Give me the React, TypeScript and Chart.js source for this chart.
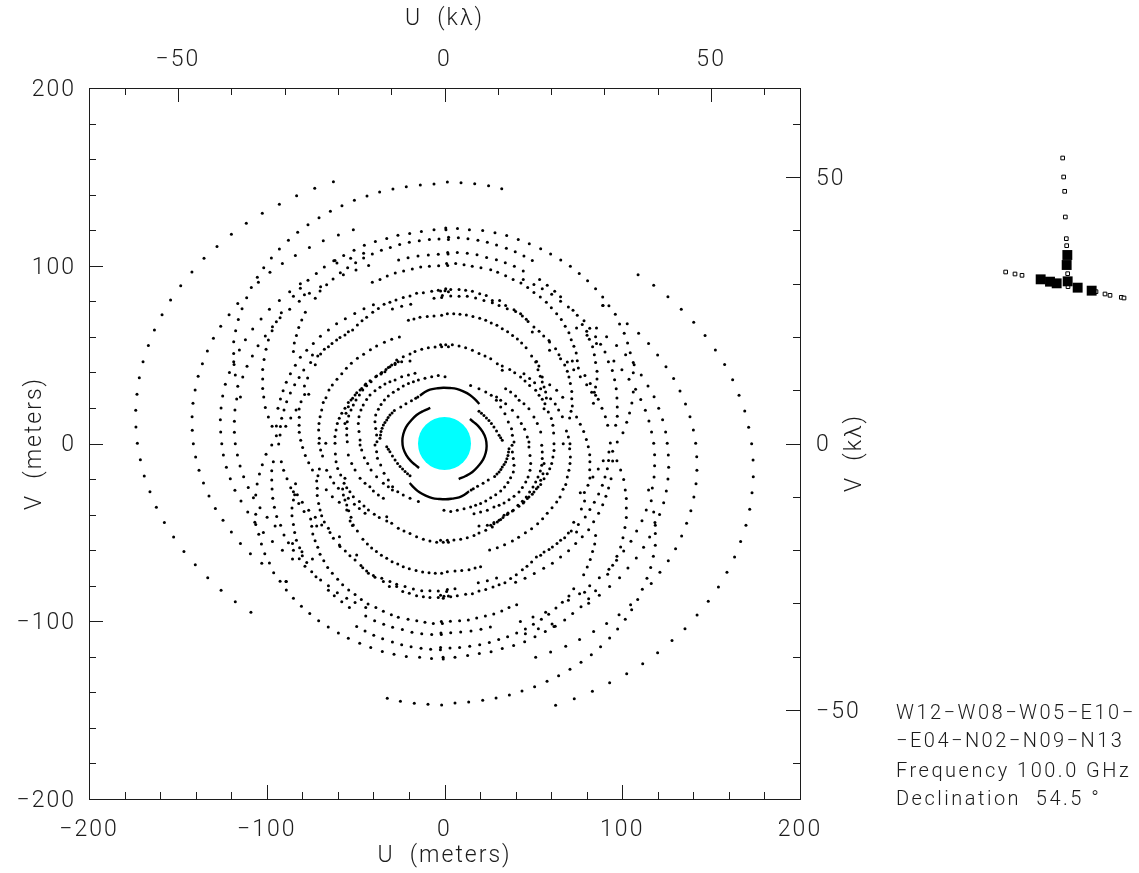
import React, { useEffect, useRef } from "react";
import { Chart, registerables } from "chart.js";

Chart.register(...registerables);

// U,V samples in metres, west half of the plane
const outerWest = [[-62.5,147.3],[-73,143.6],[-83.2,139.4],[-92.9,134.6],[-102.5,129.5],[-111.5,123.9],[-119.9,117.7],[-128,110.9],[-135.3,104.2],[-142.1,96.5],[-148.4,88.8],[-154.1,80.7],[-158.9,72.5],[-163.2,63.9],[-166.6,55.2],[-169.6,46],[-171.7,37],[-173,27.7],[-173.7,18.7],[-173.6,9.3],[-172.8,0.1],[-171.1,-9.1],[-168.9,-18.3],[-165.7,-27.1],[-162.1,-35.9],[-157.6,-44.4],[-152.4,-52.6],[-146.6,-60.7],[-140.2,-68.2],[-133.2,-75.5],[-125.7,-82.6],[-117.7,-89],[-108.9,-95]];
const ring147West = [[-5.9,146],[-13.6,145.4],[-21.5,144.5],[-29,143.2],[-36.5,141.5],[-43.6,139.2],[-50.7,136.8],[-57.7,133.8],[-64.2,130.6],[-70.6,127],[-76.8,123.1],[-82.6,118.8],[-87.8,114.3],[-92.9,109.4],[-97.4,104.4],[-101.7,98.9],[-105.3,93.5],[-108.7,87.8],[-111.3,82],[-113.9,75.8],[-116,69.8],[-117.5,63.5],[-118.6,57.3],[-118.6,50.7],[-118.4,44.5],[-117.7,38.5],[-116.3,32.2],[-114.8,26.2],[-32.2,-143.3],[-24.8,-145],[-17,-146.2],[-9.3,-146.7],[-1.6,-147.1]];
const ring120West = [[-51.3,120.3],[-59.7,117.3],[-68.2,114.1],[-76,110.2],[-83.9,105.8],[-91.2,101.3],[-98.2,96.3],[-104.7,90.7],[-116.3,78.8],[-121.2,72.5],[-125.9,65.9],[-130,59.2],[-133.4,52],[-136.2,44.9],[-138.6,37.8],[-140.3,30.1],[-141.5,22.6],[-142,15.1],[-141.9,7.4],[-141.3,-0.1],[-140,-7.6],[-138.1,-15.1],[-135.6,-22.2],[-132.5,-29.5],[-128.9,-36.5],[-124.6,-43.2],[-119.9,-49.8],[-114.8,-56.2],[-109.2,-62],[-102.8,-67.4],[-96.1,-72.7],[-89,-77.7],[-85,-87],[-80.5,-91.6],[-75.8,-95.7],[-70.8,-99.7],[-65.4,-103.2],[-59.7,-106.6],[-54.1,-109.6],[-47.7,-112.4],[-41.5,-114.7],[-35,-117],[-28.4,-118.6],[-21.5,-119.9],[-14,-120.3],[-7.3,-121],[-0.7,-121.2]];
const bandNorthWest = [[0.8,120.3],[-5.9,120.3],[-13,119.3],[-19.6,118.2],[-26.2,117.1],[-32.5,115.4],[-38.9,113.7],[-45.1,111.5],[-50.9,108.7],[-56.7,105.8],[-62.3,102.8],[-67.6,99.3],[-72.1,95.7],[-76.8,91.8],[-81.1,89.9],[-87.1,85.4],[-92.9,80.5],[-98.5,75.5],[-103.2,70],[-107.9,64.4],[-112,58.4],[-115.4,52.6],[-118.6,46],[2.2,114.7],[-3.1,115],[-8.5,114.7],[-14.2,114.1],[-19.8,113.2],[-25.2,112],[-30.5,110.3],[-35.5,108.7],[-40.6,106.6],[-45.5,107],[-45.5,104.3],[-50,101.7],[-54.5,98.9],[-58.6,96.1],[-62.7,92.5],[-66.3,89.3],[-69.7,88.2],[-70,85.8],[-72.7,81.7],[-76,84.5],[-78.8,83.7],[-81.7,80],[-85,82.8],[-81.1,87.3],[-87.1,75.5],[-91.8,73.6],[-92.5,70.8],[-94.6,68.5],[-96.8,65.7],[-97,63.5],[-100.8,60.5],[-99.1,58.2],[-104.9,55],[-108.1,49.2],[-111.1,43.4],[-113.5,37.4],[-116.9,25],[-117.9,18.8],[-118.2,12.5],[-118.2,6.3],[-117.7,-0.1],[-121,40],[-123.3,33.3],[-124.8,26.7],[-125.7,20],[-126.1,13.4],[-125.9,6.5],[-125.3,-0.1],[2,106.6],[-3.5,106.4],[-9.1,106],[-14.9,105.5],[-20.5,104.5],[-25.8,103.2],[-42.7,100.2],[-49.8,97.6],[-52.8,104.2],[-60.5,101.5],[-61.6,103],[-56.9,95],[1.8,100.2],[-3.3,100],[-8.5,99.7],[-13.4,99.3],[-18.1,98.2],[-23,97],[-27.7,95.9],[-32.2,94.2],[-36.3,92.3],[-40.6,90.7]];
const midWest = [[-100.4,53],[-101.5,47.3],[-102.3,41.7],[-102.3,36.3],[-102.3,31],[-101.7,26.2],[-100.8,20.3],[-99.1,14.9],[-97,9.7],[-94.6,9.8],[-92.3,9.5],[-89.3,9.7],[-94.6,4.4],[-92.5,4.8],[-97.2,-0.8],[-93.3,-0.3],[-93.7,19.8],[-90.3,18.8],[-83.5,18.8],[-81.8,19.4],[-86.5,14.3],[-91.6,14.2],[-81.7,14.7],[-81.8,10.2],[-81.7,6.3],[-80.9,1.8],[-92.3,25],[-88.8,23.5],[-80.7,23.5],[-90.8,29.7],[-86.7,28.4],[-89,34.4],[-84.3,33.1],[-86.7,39.3],[-81.8,37.2],[-83.9,44],[-81.1,48.5],[-85,51.7],[-84.5,56.5],[-83.3,60.8],[-82,65.2],[-80.3,69.5],[-78.3,73.8],[-78.7,27.5],[-76.4,27.7],[-78.8,32.3],[-77,36.8],[-79.2,41.3],[-75.3,45.5],[-72.7,44.3],[-74.3,49.8],[-77.5,52.4],[-73.8,56.3],[-69.8,60.3],[-65.3,63.8],[-60.7,67.4],[-55.8,70.2],[-50.5,73.2],[-45.3,75.8],[-40,78.1],[2.2,85.4],[0.3,86],[-3.5,86.2],[-7.2,85.6],[-11.9,84.8],[-15.7,84.5],[-19.4,83],[-23.2,82.2],[-27.3,80.7],[-30.7,79.4],[-34,78.3],[-37.2,76],[-40.4,73.8],[-43.8,71],[-46.4,69.1],[-49,66.7],[-51.7,63.8],[-54.1,62.9],[-56,61],[-58.8,59.7],[-60.7,58.2],[-63.3,56.3],[-65.3,54.5],[-67.6,53],[-69.7,50.3],[-71.3,49.2],[-5.9,81.7],[-1.6,82.2],[-19,78.3],[-24.1,77.2],[-29.3,75.7],[-1.6,72.1],[-5.9,71.7],[-9.7,71.5],[-13.8,71],[-17.2,70],[-20.3,69.3]];
const innerNorthWest = [[-25.4,59.9],[-29.7,58.6],[-33.8,56.9],[-38.2,54.8],[-41.7,52.8],[-45.5,50.2],[-49,47.9],[-52.4,45.1],[-55.2,42.3],[-57.8,39.3],[-60.5,36.1],[-63.1,32.9],[-65,30.1],[-66.7,25.8],[-68.2,23],[-69.1,18.8],[-70,15.1],[-70.6,11.3],[-70.8,7.6],[-70.4,2.9],[-70.6,0.1],[-66.8,0.1],[2.2,54.5],[-1.6,54.5],[-5.3,54.3],[-9.1,53.9],[-12.8,53],[-16.6,51.7],[-19.4,50.3],[-23.2,48.8],[-26.9,47],[-29.7,44.2],[-32.9,41.7],[-35.7,39.5],[-38.7,37.6],[-41.9,35.3],[-44.3,33.5],[-46.6,31],[-49.4,28.6],[-51.7,25.4],[-54.1,23],[-56,19.8],[-57.8,17],[-59.2,14.2],[-60.3,11.3],[-61,7.6],[-61.6,3.9],[-61.6,0.1],[-19.4,46.4],[-24.1,46],[-27.8,44.5],[-31.6,42.7],[-35.3,39.9],[-43.8,32.5],[-46,30.1],[-47.9,27.3],[-49.8,24.5],[-51.3,21.7],[-52.6,18.8],[-53.9,15.5],[-54.7,12.3],[-55,8.5],[-55,4.8],[-54.7,1]];
const ringsCloseWest = [[0.3,37.6],[-3.5,38.2],[-7.2,37.6],[-11,36.7],[-14.7,35.7],[-17.5,34.8],[-20.3,33.8],[-23.2,32.3],[-26,30.5],[-28.8,28.8],[-31.6,26.7],[-33.8,24.5],[-35.7,22],[-37.2,19.2],[-38.7,16],[-39.1,12.3],[-38.7,8.5],[-38.2,4.8],[-38,1],[-39.1,-0.8],[-38.2,-4.6],[-37.7,-8.3],[-35.9,-12.1],[-34,-16.8],[-31.6,-20.5],[-29.2,-24.3],[-26.3,-27.1],[-23.2,-29],[-19.4,-30.8],[-14.7,-32.7],[-16.6,39.5],[-20.3,38.5],[-24.1,37.6],[-27.8,35.7],[-30.7,34.8],[-33.5,33.5],[-36.3,31.6],[-39.1,29.7],[-41.9,27.3],[-43.8,24.8],[-45.7,21.7],[-47,18.8],[-48.1,15.1],[-48.5,11.3],[-48.1,6.7],[-47.5,2],[-47.5,-0.8],[-46.6,-3.7],[-45.1,-8],[-43.2,-11.2],[-41.3,-14.9],[-38.2,-18.7],[-34.4,-22.4],[-31.6,-24.3],[-29.3,-26.2],[-54.1,-6.5],[-52.2,-11.2],[-50.3,-14.9],[-47.5,-19.6],[-44.7,-22.4],[-42,-24.3],[-40,-26.7],[-37.2,-29],[-34.4,-30.8],[-26,46],[-27.8,45.1],[-30.7,43.2],[-33.5,40.4],[-35.7,39.1],[-38.2,38],[-41.3,34.8],[-44.7,32.9],[-47.5,30.1],[-50.3,27.3],[-52.6,24.5],[-54.1,20.7],[-55.4,17],[-56,11.3],[-56,-19.6],[-55,-24.9],[-54.1,-30.8],[-53.2,-27.1],[-51.3,-30],[-50.7,-34.2],[-47.9,-32.7],[-47.9,-36.5],[-45.3,-35.2],[-44.7,-39.3],[-42.8,-37.4],[-39.5,-39.8],[-36.7,-41.7],[-32.5,-43.6],[-55,-37.4],[-53.1,-43.6],[-51.8,-46.2],[-15,26.1],[-16.2,25.4],[-18.6,24],[-21.7,22.4],[-24.6,20.6],[-28.2,18.5],[-29.5,17.2],[-30.7,16],[-31.7,14.6],[-32.5,13.2],[-33.5,11.8],[-34.4,10.4],[-35.1,8.6],[-35.7,6.7],[-36,4.8],[-36.3,2.9],[-32.5,-1.8],[-31.6,-3.2],[-30.7,-4.6],[-29.3,-7],[-27.8,-9.3],[-26.4,-11.2],[-25,-13],[-23.6,-14.4],[-22.2,-15.8],[-20.8,-17],[-19.4,-18.1]];
const southWestA = [[-124.4,-6.5],[-122.7,-13.4],[-120.5,-19.8],[-117.9,-26.3],[-114.5,-32.3],[-110.7,-38.5],[-106.2,-45.5],[-104.5,-51.1],[-103,-56.5],[-101.1,-62],[-98.5,-67.2],[-92.5,-77.5],[-89,-82.4],[-116.5,-6.5],[-115,-12.7],[-113,-18.7],[-110.4,-24.7],[-105.4,-22.8],[-107.5,-30.5],[-106.2,-29],[-106.2,-39.8],[-106.7,-44.3],[-101.9,-50],[-100.4,-6.1],[-102.5,-11.9],[-104.1,-17.2],[-103.8,-36.1],[-99.8,-41.5],[-95.3,-46.4],[-90.3,-51.5],[-87.8,-55.8],[-85.5,-56.3],[-96.8,-55.2],[-91.2,-60.1],[-89.2,-77.7],[-96.3,-10.2],[-97.2,-15.3],[-97.2,-20.5],[-97,-25.6],[-96.6,-30.8],[-95.7,-35.9],[-94.4,-41],[-92.2,-46],[-91.8,-10.2],[-90.5,-15.1],[-88.6,-19.8],[-86.5,-24.9],[-83.8,-22.6],[-85,-27.1],[-84.3,-28.9],[-82.8,-28.9],[-85,-31.8],[-82,-33.8],[-80,-33.1],[-85.8,-36.3],[-85.8,-40.6],[-85,-45.5],[-84.3,-50],[-83.3,-54.5],[-81.5,-58.6],[-80.2,-60.9],[-80,-63.1],[-81.7,-64.8],[-85.5,-65],[-85,-60.1],[-79,-38.3],[-76.4,-37.6],[-75.3,-42.5],[-72.7,-41.5],[-69.1,-40.6],[-74.7,-46.6],[-71.9,-46.4],[-69.1,-45.9],[-67.6,-44.2]];
const southWestB = [[-74.1,-50.9],[-72.8,-54.7],[-71.3,-58.4],[-70,-62.3],[-67.9,-65.9],[-65.7,-69.7],[-63.1,-73],[-60.1,-76.4],[-57.3,-79.4],[-53.9,-82.4],[-50.3,-85],[-46.8,-87.7],[-43,-90.3],[-38.6,-92.2],[-34.4,-94.4],[-29.9,-96.3],[-26,-97.8],[-20.5,-98.9],[-15.6,-99.7],[-11,-100.6],[-6.3,-101.2],[-1.2,-101.3],[-79.8,-2.3],[-78.3,-6.7],[-76.4,-10.8],[-74.3,-14.9],[-70.4,-14.3],[-71.2,-18.1],[-71.9,-21.1],[-71.6,-25.2],[-71.6,-29.3],[-70.8,-33.7],[-70,-37.4],[-69.7,-3.7],[-68.6,-7],[-66.3,-15.1],[-64.2,-18.8],[-62.3,-22.2],[-66.5,-26],[-63.1,-29.9],[-59.2,-33.1],[-59.7,-25.2],[-56.5,-22.4],[-57.3,-25.6],[-56.9,-29],[-56,-31.8],[-55,-34.6],[-53.9,-37.8],[-52.6,-41.5],[-51.3,-45.8],[-49,-49.2],[-45.9,-53.9],[-43.4,-56.5],[-41,-58.8],[-38.3,-60.8],[-35.5,-62.9],[-32.5,-64.6],[-29.5,-66.5],[-26.3,-67.8],[-23.2,-69.3],[-19.8,-70.4],[-16,-71.5],[-12.3,-72.3],[-8.7,-72.7],[-5.2,-73],[-1.6,-73],[-61.4,-5.9],[-61,-10.2],[-60.1,-14],[-58.4,-17.7]];
const southWestC = [[-32.5,-41.2],[-29.7,-44.9],[-26,-47.7],[-22.8,-49.2],[-19.4,-50.7],[-15.7,-52.4],[-11.9,-53.9],[-8.2,-54.8],[-4.4,-55.6],[-0.7,-55.6],[2.2,-55.6],[-58.8,-58],[-55.8,-60.5],[-53.2,-63.1],[-50.3,-65.5],[-47,-68.7],[-43.8,-71.7],[-40,-74.3],[-35.3,-75.8],[-30.7,-77.7],[-26.9,-79.2],[-22.2,-80.5],[-17.5,-81.8],[-12.8,-82.8],[-8.2,-82.8],[-3.5,-83],[1.2,-83.3],[-49.4,-62.7],[-46,-69.9],[-42.8,-73],[-39.1,-75.3],[-34.4,-77.7],[-31,-80.5],[-26.9,-80.5],[-23.5,-83.3],[-19.8,-84.3],[-15.7,-85.6],[-11.9,-86.2],[-8.2,-86.7],[-3.5,-86.7],[-0.7,-87.1],[2.2,-85.8],[-78.5,-69.1],[-74.7,-72.1],[-72.3,-74.9],[-69.7,-76.8],[-65.3,-80],[-65.3,-82.6],[-62,-85.6],[-60.3,-83.9],[-57.8,-89],[-55,-87.1],[-53.5,-92.2],[-50.3,-89.4],[-44.3,-92.2],[-44.3,-97],[-49.4,-103],[-44.7,-105.5],[-39.8,-107.9],[-34.8,-109.8],[-29.3,-111.7],[-24.1,-113.2],[-18.8,-114.3],[-13.2,-115.2],[-7.8,-115.8],[-2.3,-116],[-39.3,-99.7],[-34.2,-101.7],[-29.2,-103.4],[-23.7,-104.7],[-18.3,-106.2],[-12.8,-107],[-7.2,-107.5],[-1.8,-107.5],[-77.5,-67],[-74.3,-65],[-59.1,-52.4],[-64.4,-50],[-65.3,-47.7],[-62.5,-53.3],[-59.1,-57.1]];

// the conjugate samples in the east half of the plane
const outerEast = [[62.5,-147.3],[73,-143.6],[83.2,-139.4],[92.9,-134.6],[102.5,-129.5],[111.5,-123.9],[119.9,-117.7],[128,-110.9],[135.3,-104.2],[142.1,-96.5],[148.4,-88.8],[154.1,-80.7],[158.9,-72.5],[163.2,-63.9],[166.6,-55.2],[169.6,-46],[171.7,-37],[173,-27.7],[173.7,-18.7],[173.6,-9.3],[172.8,-0.1],[171.1,9.1],[168.9,18.3],[165.7,27.1],[162.1,35.9],[157.6,44.4],[152.4,52.6],[146.6,60.7],[140.2,68.2],[133.2,75.5],[125.7,82.6],[117.7,89],[108.9,95]];
const ring147East = [[5.9,-146],[13.6,-145.4],[21.5,-144.5],[29,-143.2],[36.5,-141.5],[43.6,-139.2],[50.7,-136.8],[57.7,-133.8],[64.2,-130.6],[70.6,-127],[76.8,-123.1],[82.6,-118.8],[87.8,-114.3],[92.9,-109.4],[97.4,-104.4],[101.7,-98.9],[105.3,-93.5],[108.7,-87.8],[111.3,-82],[113.9,-75.8],[116,-69.8],[117.5,-63.5],[118.6,-57.3],[118.6,-50.7],[118.4,-44.5],[117.7,-38.5],[116.3,-32.2],[114.8,-26.2],[32.2,143.3],[24.8,145],[17,146.2],[9.3,146.7],[1.6,147.1]];
const ring120East = [[51.3,-120.3],[59.7,-117.3],[68.2,-114.1],[76,-110.2],[83.9,-105.8],[91.2,-101.3],[98.2,-96.3],[104.7,-90.7],[116.3,-78.8],[121.2,-72.5],[125.9,-65.9],[130,-59.2],[133.4,-52],[136.2,-44.9],[138.6,-37.8],[140.3,-30.1],[141.5,-22.6],[142,-15.1],[141.9,-7.4],[141.3,0.1],[140,7.6],[138.1,15.1],[135.6,22.2],[132.5,29.5],[128.9,36.5],[124.6,43.2],[119.9,49.8],[114.8,56.2],[109.2,62],[102.8,67.4],[96.1,72.7],[89,77.7],[85,87],[80.5,91.6],[75.8,95.7],[70.8,99.7],[65.4,103.2],[59.7,106.6],[54.1,109.6],[47.7,112.4],[41.5,114.7],[35,117],[28.4,118.6],[21.5,119.9],[14,120.3],[7.3,121],[0.7,121.2]];
const bandSouthEast = [[-0.8,-120.3],[5.9,-120.3],[13,-119.3],[19.6,-118.2],[26.2,-117.1],[32.5,-115.4],[38.9,-113.7],[45.1,-111.5],[50.9,-108.7],[56.7,-105.8],[62.3,-102.8],[67.6,-99.3],[72.1,-95.7],[76.8,-91.8],[81.1,-89.9],[87.1,-85.4],[92.9,-80.5],[98.5,-75.5],[103.2,-70],[107.9,-64.4],[112,-58.4],[115.4,-52.6],[118.6,-46],[-2.2,-114.7],[3.1,-115],[8.5,-114.7],[14.2,-114.1],[19.8,-113.2],[25.2,-112],[30.5,-110.3],[35.5,-108.7],[40.6,-106.6],[45.5,-107],[45.5,-104.3],[50,-101.7],[54.5,-98.9],[58.6,-96.1],[62.7,-92.5],[66.3,-89.3],[69.7,-88.2],[70,-85.8],[72.7,-81.7],[76,-84.5],[78.8,-83.7],[81.7,-80],[85,-82.8],[81.1,-87.3],[87.1,-75.5],[91.8,-73.6],[92.5,-70.8],[94.6,-68.5],[96.8,-65.7],[97,-63.5],[100.8,-60.5],[99.1,-58.2],[104.9,-55],[108.1,-49.2],[111.1,-43.4],[113.5,-37.4],[116.9,-25],[117.9,-18.8],[118.2,-12.5],[118.2,-6.3],[117.7,0.1],[121,-40],[123.3,-33.3],[124.8,-26.7],[125.7,-20],[126.1,-13.4],[125.9,-6.5],[125.3,0.1],[-2,-106.6],[3.5,-106.4],[9.1,-106],[14.9,-105.5],[20.5,-104.5],[25.8,-103.2],[42.7,-100.2],[49.8,-97.6],[52.8,-104.2],[60.5,-101.5],[61.6,-103],[56.9,-95],[-1.8,-100.2],[3.3,-100],[8.5,-99.7],[13.4,-99.3],[18.1,-98.2],[23,-97],[27.7,-95.9],[32.2,-94.2],[36.3,-92.3],[40.6,-90.7]];
const midEast = [[100.4,-53],[101.5,-47.3],[102.3,-41.7],[102.3,-36.3],[102.3,-31],[101.7,-26.2],[100.8,-20.3],[99.1,-14.9],[97,-9.7],[94.6,-9.8],[92.3,-9.5],[89.3,-9.7],[94.6,-4.4],[92.5,-4.8],[97.2,0.8],[93.3,0.3],[93.7,-19.8],[90.3,-18.8],[83.5,-18.8],[81.8,-19.4],[86.5,-14.3],[91.6,-14.2],[81.7,-14.7],[81.8,-10.2],[81.7,-6.3],[80.9,-1.8],[92.3,-25],[88.8,-23.5],[80.7,-23.5],[90.8,-29.7],[86.7,-28.4],[89,-34.4],[84.3,-33.1],[86.7,-39.3],[81.8,-37.2],[83.9,-44],[81.1,-48.5],[85,-51.7],[84.5,-56.5],[83.3,-60.8],[82,-65.2],[80.3,-69.5],[78.3,-73.8],[78.7,-27.5],[76.4,-27.7],[78.8,-32.3],[77,-36.8],[79.2,-41.3],[75.3,-45.5],[72.7,-44.3],[74.3,-49.8],[77.5,-52.4],[73.8,-56.3],[69.8,-60.3],[65.3,-63.8],[60.7,-67.4],[55.8,-70.2],[50.5,-73.2],[45.3,-75.8],[40,-78.1],[-2.2,-85.4],[-0.3,-86],[3.5,-86.2],[7.2,-85.6],[11.9,-84.8],[15.7,-84.5],[19.4,-83],[23.2,-82.2],[27.3,-80.7],[30.7,-79.4],[34,-78.3],[37.2,-76],[40.4,-73.8],[43.8,-71],[46.4,-69.1],[49,-66.7],[51.7,-63.8],[54.1,-62.9],[56,-61],[58.8,-59.7],[60.7,-58.2],[63.3,-56.3],[65.3,-54.5],[67.6,-53],[69.7,-50.3],[71.3,-49.2],[5.9,-81.7],[1.6,-82.2],[19,-78.3],[24.1,-77.2],[29.3,-75.7],[1.6,-72.1],[5.9,-71.7],[9.7,-71.5],[13.8,-71],[17.2,-70],[20.3,-69.3]];
const innerSouthEast = [[25.4,-59.9],[29.7,-58.6],[33.8,-56.9],[38.2,-54.8],[41.7,-52.8],[45.5,-50.2],[49,-47.9],[52.4,-45.1],[55.2,-42.3],[57.8,-39.3],[60.5,-36.1],[63.1,-32.9],[65,-30.1],[66.7,-25.8],[68.2,-23],[69.1,-18.8],[70,-15.1],[70.6,-11.3],[70.8,-7.6],[70.4,-2.9],[70.6,-0.1],[66.8,-0.1],[-2.2,-54.5],[1.6,-54.5],[5.3,-54.3],[9.1,-53.9],[12.8,-53],[16.6,-51.7],[19.4,-50.3],[23.2,-48.8],[26.9,-47],[29.7,-44.2],[32.9,-41.7],[35.7,-39.5],[38.7,-37.6],[41.9,-35.3],[44.3,-33.5],[46.6,-31],[49.4,-28.6],[51.7,-25.4],[54.1,-23],[56,-19.8],[57.8,-17],[59.2,-14.2],[60.3,-11.3],[61,-7.6],[61.6,-3.9],[61.6,-0.1],[19.4,-46.4],[24.1,-46],[27.8,-44.5],[31.6,-42.7],[35.3,-39.9],[43.8,-32.5],[46,-30.1],[47.9,-27.3],[49.8,-24.5],[51.3,-21.7],[52.6,-18.8],[53.9,-15.5],[54.7,-12.3],[55,-8.5],[55,-4.8],[54.7,-1]];
const ringsCloseEast = [[-0.3,-37.6],[3.5,-38.2],[7.2,-37.6],[11,-36.7],[14.7,-35.7],[17.5,-34.8],[20.3,-33.8],[23.2,-32.3],[26,-30.5],[28.8,-28.8],[31.6,-26.7],[33.8,-24.5],[35.7,-22],[37.2,-19.2],[38.7,-16],[39.1,-12.3],[38.7,-8.5],[38.2,-4.8],[38,-1],[39.1,0.8],[38.2,4.6],[37.7,8.3],[35.9,12.1],[34,16.8],[31.6,20.5],[29.2,24.3],[26.3,27.1],[23.2,29],[19.4,30.8],[14.7,32.7],[16.6,-39.5],[20.3,-38.5],[24.1,-37.6],[27.8,-35.7],[30.7,-34.8],[33.5,-33.5],[36.3,-31.6],[39.1,-29.7],[41.9,-27.3],[43.8,-24.8],[45.7,-21.7],[47,-18.8],[48.1,-15.1],[48.5,-11.3],[48.1,-6.7],[47.5,-2],[47.5,0.8],[46.6,3.7],[45.1,8],[43.2,11.2],[41.3,14.9],[38.2,18.7],[34.4,22.4],[31.6,24.3],[29.3,26.2],[54.1,6.5],[52.2,11.2],[50.3,14.9],[47.5,19.6],[44.7,22.4],[42,24.3],[40,26.7],[37.2,29],[34.4,30.8],[26,-46],[27.8,-45.1],[30.7,-43.2],[33.5,-40.4],[35.7,-39.1],[38.2,-38],[41.3,-34.8],[44.7,-32.9],[47.5,-30.1],[50.3,-27.3],[52.6,-24.5],[54.1,-20.7],[55.4,-17],[56,-11.3],[56,19.6],[55,24.9],[54.1,30.8],[53.2,27.1],[51.3,30],[50.7,34.2],[47.9,32.7],[47.9,36.5],[45.3,35.2],[44.7,39.3],[42.8,37.4],[39.5,39.8],[36.7,41.7],[32.5,43.6],[55,37.4],[53.1,43.6],[51.8,46.2],[15,-26.1],[16.2,-25.4],[18.6,-24],[21.7,-22.4],[24.6,-20.6],[28.2,-18.5],[29.5,-17.2],[30.7,-16],[31.7,-14.6],[32.5,-13.2],[33.5,-11.8],[34.4,-10.4],[35.1,-8.6],[35.7,-6.7],[36,-4.8],[36.3,-2.9],[32.5,1.8],[31.6,3.2],[30.7,4.6],[29.3,7],[27.8,9.3],[26.4,11.2],[25,13],[23.6,14.4],[22.2,15.8],[20.8,17],[19.4,18.1]];
const northEastA = [[124.4,6.5],[122.7,13.4],[120.5,19.8],[117.9,26.3],[114.5,32.3],[110.7,38.5],[106.2,45.5],[104.5,51.1],[103,56.5],[101.1,62],[98.5,67.2],[92.5,77.5],[89,82.4],[116.5,6.5],[115,12.7],[113,18.7],[110.4,24.7],[105.4,22.8],[107.5,30.5],[106.2,29],[106.2,39.8],[106.7,44.3],[101.9,50],[100.4,6.1],[102.5,11.9],[104.1,17.2],[103.8,36.1],[99.8,41.5],[95.3,46.4],[90.3,51.5],[87.8,55.8],[85.5,56.3],[96.8,55.2],[91.2,60.1],[89.2,77.7],[96.3,10.2],[97.2,15.3],[97.2,20.5],[97,25.6],[96.6,30.8],[95.7,35.9],[94.4,41],[92.2,46],[91.8,10.2],[90.5,15.1],[88.6,19.8],[86.5,24.9],[83.8,22.6],[85,27.1],[84.3,28.9],[82.8,28.9],[85,31.8],[82,33.8],[80,33.1],[85.8,36.3],[85.8,40.6],[85,45.5],[84.3,50],[83.3,54.5],[81.5,58.6],[80.2,60.9],[80,63.1],[81.7,64.8],[85.5,65],[85,60.1],[79,38.3],[76.4,37.6],[75.3,42.5],[72.7,41.5],[69.1,40.6],[74.7,46.6],[71.9,46.4],[69.1,45.9],[67.6,44.2]];
const northEastB = [[74.1,50.9],[72.8,54.7],[71.3,58.4],[70,62.3],[67.9,65.9],[65.7,69.7],[63.1,73],[60.1,76.4],[57.3,79.4],[53.9,82.4],[50.3,85],[46.8,87.7],[43,90.3],[38.6,92.2],[34.4,94.4],[29.9,96.3],[26,97.8],[20.5,98.9],[15.6,99.7],[11,100.6],[6.3,101.2],[1.2,101.3],[79.8,2.3],[78.3,6.7],[76.4,10.8],[74.3,14.9],[70.4,14.3],[71.2,18.1],[71.9,21.1],[71.6,25.2],[71.6,29.3],[70.8,33.7],[70,37.4],[69.7,3.7],[68.6,7],[66.3,15.1],[64.2,18.8],[62.3,22.2],[66.5,26],[63.1,29.9],[59.2,33.1],[59.7,25.2],[56.5,22.4],[57.3,25.6],[56.9,29],[56,31.8],[55,34.6],[53.9,37.8],[52.6,41.5],[51.3,45.8],[49,49.2],[45.9,53.9],[43.4,56.5],[41,58.8],[38.3,60.8],[35.5,62.9],[32.5,64.6],[29.5,66.5],[26.3,67.8],[23.2,69.3],[19.8,70.4],[16,71.5],[12.3,72.3],[8.7,72.7],[5.2,73],[1.6,73],[61.4,5.9],[61,10.2],[60.1,14],[58.4,17.7]];
const northEastC = [[32.5,41.2],[29.7,44.9],[26,47.7],[22.8,49.2],[19.4,50.7],[15.7,52.4],[11.9,53.9],[8.2,54.8],[4.4,55.6],[0.7,55.6],[-2.2,55.6],[58.8,58],[55.8,60.5],[53.2,63.1],[50.3,65.5],[47,68.7],[43.8,71.7],[40,74.3],[35.3,75.8],[30.7,77.7],[26.9,79.2],[22.2,80.5],[17.5,81.8],[12.8,82.8],[8.2,82.8],[3.5,83],[-1.2,83.3],[49.4,62.7],[46,69.9],[42.8,73],[39.1,75.3],[34.4,77.7],[31,80.5],[26.9,80.5],[23.5,83.3],[19.8,84.3],[15.7,85.6],[11.9,86.2],[8.2,86.7],[3.5,86.7],[0.7,87.1],[-2.2,85.8],[78.5,69.1],[74.7,72.1],[72.3,74.9],[69.7,76.8],[65.3,80],[65.3,82.6],[62,85.6],[60.3,83.9],[57.8,89],[55,87.1],[53.5,92.2],[50.3,89.4],[44.3,92.2],[44.3,97],[49.4,103],[44.7,105.5],[39.8,107.9],[34.8,109.8],[29.3,111.7],[24.1,113.2],[18.8,114.3],[13.2,115.2],[7.8,115.8],[2.3,116],[39.3,99.7],[34.2,101.7],[29.2,103.4],[23.7,104.7],[18.3,106.2],[12.8,107],[7.2,107.5],[1.8,107.5],[77.5,67],[74.3,65],[59.1,52.4],[64.4,50],[65.3,47.7],[62.5,53.3],[59.1,57.1]];

// the densely sampled short-baseline arcs
const arcNorth = [[19.6,22.2],[17.2,24.8],[14.3,27.3],[10.6,29.3],[6.8,30.7],[3.1,31.2],[-0.7,31.4],[-4.4,31],[-8.2,30.3],[-11,29],[-13.8,26.9]];
const arcSouth = [[-19.6,-22.2],[-17.2,-24.8],[-14.3,-27.3],[-10.6,-29.3],[-6.8,-30.7],[-3.1,-31.2],[0.7,-31.4],[4.4,-31],[8.2,-30.3],[11,-29],[13.8,-26.9]];
const arcWest = [[-8,20],[-11.9,18.3],[-15.7,16],[-19,12.7],[-21.7,9.1],[-23.2,5.2],[-23.7,1.4],[-23.2,-2.7],[-21.5,-6.5],[-19,-9.8],[-16.6,-11.9],[-14.3,-13.8]];
const arcEast = [[8,-20],[11.9,-18.3],[15.7,-16],[19,-12.7],[21.7,-9.1],[23.2,-5.2],[23.7,-1.4],[23.2,2.7],[21.5,6.5],[19,9.8],[16.6,11.9],[14.3,13.8]];

const shadowCentre = [[0, 0]];

// antenna stations, east and north offsets
const allStations = [[-15,374],[-12,317],[-9,274],[-7,197],[-4,132],[-3,111],[0,27],[1,-12],[-186,32],[-158,26],[-137,22],[85,-27],[112,-34],[127,-38],[161,-44],[169,-46]];
const usedStations = [[-81,10],[-53,3],[-33,-2],[0,4],[30,-15],[72,-24],[-3,53],[-1,83]];

const infoLines = ["W12\u2212W08\u2212W05\u2212E10\u2212", "\u2212E04\u2212N02\u2212N09\u2212N13", "Frequency 100.0 GHz", "Declination  54.5 \u00b0"];
const metreTicksMajor = 100;
const kiloLambdaMajor = 50;

const INK = "#1c1c1c";
const FONT = { family: "Roboto, 'Liberation Sans', sans-serif", size: 23, weight: "300" as any };
const toXY = (p: number[]) => ({ x: p[0], y: p[1] });
const fmt = (v: number) => (v < 0 ? "\u2212" + Math.abs(v) : String(v));

const trackPoints = [outerWest, ring147West, ring120West, bandNorthWest, midWest, innerNorthWest, ringsCloseWest, southWestA, southWestB, southWestC, outerEast, ring147East, ring120East, bandSouthEast, midEast, innerSouthEast, ringsCloseEast, northEastA, northEastB, northEastC].flat().map(toXY);

const isMajor = (scale: any, v: number) => {
  const major = scale.id === "x" || scale.id === "y" ? metreTicksMajor : kiloLambdaMajor;
  return Math.abs(v % major) < 1e-6;
};

const framePlugin = {
  id: "frame",
  beforeDraw(chart: any) {
    (chart.ctx as any).letterSpacing = "2px";
  },
  afterDraw(chart: any) {
    const { ctx, chartArea: a, scales } = chart;
    ctx.save();
    ctx.strokeStyle = INK;
    ctx.lineWidth = 1;
    ctx.beginPath();
    for (const id of ["x", "xTop", "y", "yRight"]) {
      const s = scales[id];
      for (const t of s.ticks) {
        const len = isMajor(s, t.value) ? 14 : 7;
        const p = Math.round(s.getPixelForValue(t.value)) + 0.5;
        if (id === "x") { ctx.moveTo(p, a.bottom); ctx.lineTo(p, a.bottom - len); }
        if (id === "xTop") { ctx.moveTo(p, a.top); ctx.lineTo(p, a.top + len); }
        if (id === "y") { ctx.moveTo(a.left, p); ctx.lineTo(a.left + len, p); }
        if (id === "yRight") { ctx.moveTo(a.right, p); ctx.lineTo(a.right - len, p); }
      }
    }
    ctx.stroke();
    ctx.fillStyle = INK;
    ctx.textBaseline = "middle";
    ctx.textAlign = "center";
    ctx.font = "300 23px Roboto, 'Liberation Sans', sans-serif";
    ctx.save();
    ctx.translate(855, 453);
    ctx.rotate(-Math.PI / 2);
    ctx.fillText("V  (k\u03bb)", 0, 0);
    ctx.restore();
    ctx.textAlign = "left";
    ctx.font = "300 20px Roboto, 'Liberation Sans', sans-serif";
    (ctx as any).letterSpacing = "2.5px";
    infoLines.forEach((line, i) => ctx.fillText(line, 896, [714, 742, 772, 800][i]));
    ctx.restore();
  },
};

const metreScale = (position: string, fit: (s: any) => void, title: any) => ({
  type: "linear",
  position,
  min: -200,
  max: 200,
  afterFit: fit,
  grid: { display: false },
  border: { display: true, color: INK, width: 1 },
  title,
  ticks: {
    stepSize: 20,
    autoSkip: false,
    maxRotation: 0,
    color: INK,
    font: FONT,
    padding: position === "left" ? 5 : 9,
    labelOffset: position === "left" ? 2 : 0,
    callback: (v: number) => (Math.abs(v % metreTicksMajor) < 1e-6 ? fmt(v) : ""),
  },
});

const lambdaScale = (position: string, fit: (s: any) => void, title: any, padding: number) => ({
  type: "linear",
  position,
  min: -200 / 3,
  max: 200 / 3,
  afterFit: fit,
  grid: { display: false },
  border: { display: true, color: INK, width: 1 },
  title,
  ticks: {
    stepSize: 10,
    includeBounds: false,
    autoSkip: false,
    maxRotation: 0,
    color: INK,
    font: FONT,
    padding,
    labelOffset: position === "right" ? 2 : 0,
    callback: (v: number) => (Math.abs(v % kiloLambdaMajor) < 1e-6 ? fmt(Math.round(v)) : ""),
  },
});

export default function App() {
  const mainRef = useRef<HTMLCanvasElement>(null);
  const arrayRef = useRef<HTMLCanvasElement>(null);

  useEffect(() => {
    const line = (pts: number[][]) => ({
      type: "scatter",
      data: pts.map(toXY),
      showLine: true,
      borderColor: "#000",
      borderWidth: 2.4,
      tension: 0.4,
      pointRadius: 0,
      xAxisID: "x",
      yAxisID: "y",
    });
    const main = new Chart(mainRef.current as any, {
      type: "scatter",
      data: {
        datasets: [
          line(arcNorth), line(arcSouth), line(arcWest), line(arcEast),
          { label: "uv", data: trackPoints, backgroundColor: "#000", borderWidth: 0, pointRadius: 1.5, xAxisID: "x", yAxisID: "y" },
          { label: "shadow", data: shadowCentre.map(toXY), backgroundColor: "#00ffff", borderWidth: 0, pointRadius: 26.5, xAxisID: "x", yAxisID: "y" },
        ] as any,
      },
      options: {
        animation: false,
        responsive: false,
        devicePixelRatio: 1,
        layout: { padding: 0 },
        plugins: { legend: { display: false }, tooltip: { enabled: false } },
        scales: {
          x: metreScale("bottom", (s) => { s.height = 74; }, { display: true, text: "U  (meters)", color: INK, font: FONT, padding: { top: 0, bottom: 3 } }),
          y: metreScale("left", (s) => { s.width = 89; }, { display: true, text: "V  (meters)", color: INK, font: FONT, padding: { top: 21, bottom: 0 } }),
          xTop: lambdaScale("top", (s) => { s.height = 88; }, { display: true, text: "U  (k\u03bb)", color: INK, font: FONT, padding: { top: 5, bottom: 0 } }, 6),
          yRight: lambdaScale("right", (s) => { s.width = 339; }, { display: false }, 8),
        } as any,
      },
      plugins: [framePlugin],
    } as any);

    const layout = new Chart(arrayRef.current as any, {
      type: "scatter",
      data: {
        datasets: [
          { label: "used", data: usedStations.map(toXY), pointStyle: "rect", pointRadius: 7, backgroundColor: "#000", borderWidth: 0 },
          { label: "all", data: allStations.map(toXY), pointStyle: "rect", pointRadius: 2.6, backgroundColor: "#fff", borderColor: "#000", borderWidth: 1 },
        ] as any,
      },
      options: {
        animation: false,
        responsive: false,
        devicePixelRatio: 1,
        layout: { padding: 0, autoPadding: false },
        plugins: { legend: { display: false }, tooltip: { enabled: false } },
        scales: {
          x: { type: "linear", display: false, min: -233, max: 187 },
          y: { type: "linear", display: false, min: -82, max: 413 },
        },
      },
    } as any);

    return () => {
      main.destroy();
      layout.destroy();
    };
  }, []);

  return (
    <div style={{ position: "absolute", left: 0, top: 0, width: 1139, height: 873, overflow: "hidden", background: "#fff" }}>
      <canvas ref={mainRef} width={1139} height={873} style={{ position: "absolute", left: 0, top: 0, display: "block" }} />
      <canvas ref={arrayRef} width={140} height={165} style={{ position: "absolute", left: 990, top: 145, display: "block" }} />
    </div>
  );
}
